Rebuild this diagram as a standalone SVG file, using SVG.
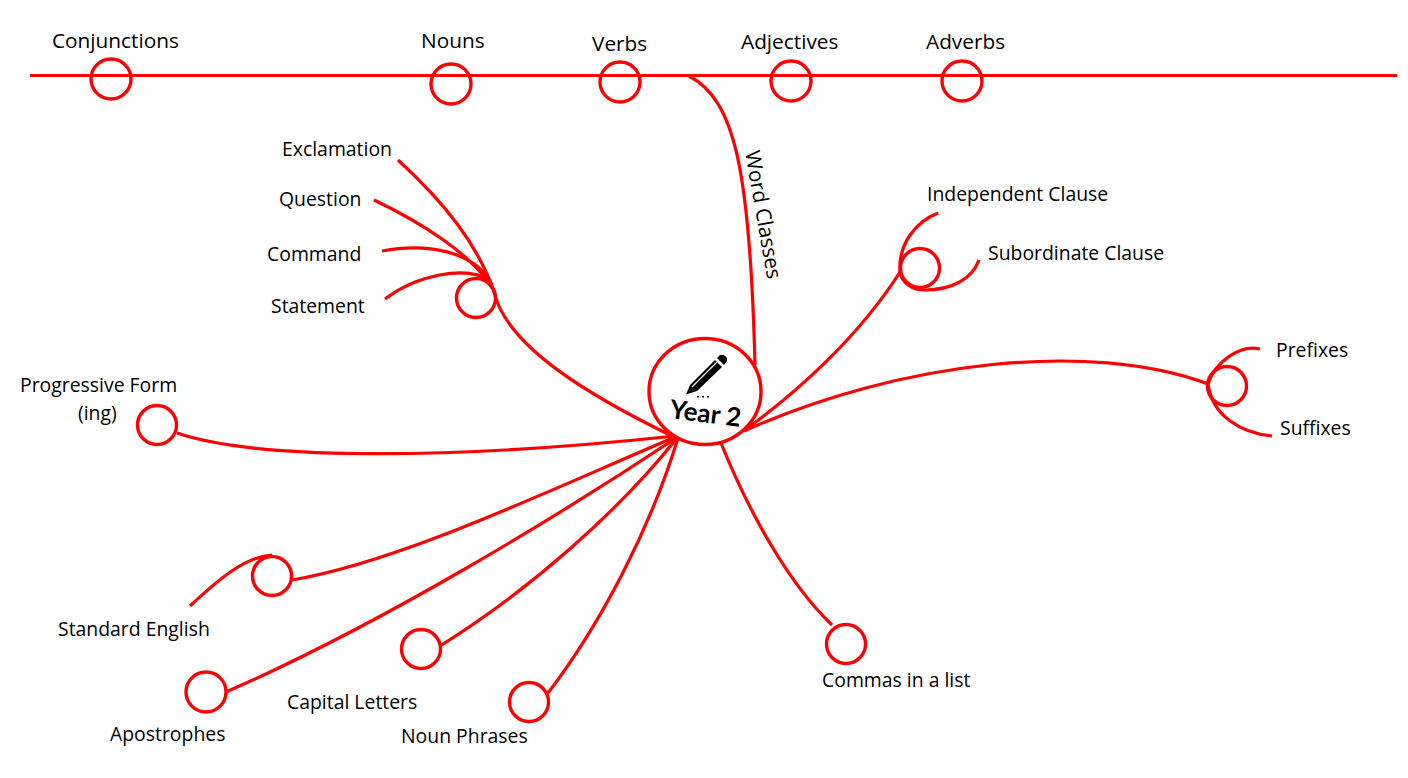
<svg xmlns="http://www.w3.org/2000/svg" width="1408" height="778" viewBox="0 0 1408 778">
<style>
.c{fill:none;stroke:#fe0000;stroke-width:3.2;stroke-linecap:butt}
.n{fill:#fff;fill-opacity:0;stroke:#fe0000;stroke-width:3.4}
text{font-family:"Open Sans","Noto Sans","Liberation Sans",sans-serif;font-size:19.4px;fill:#000}
.t{font-size:20.8px}
</style>
<rect width="1408" height="778" fill="#fff"/>
<g id="connectors">
<path class="c" d="M30 75.500H1397"/>
<path class="c" d="M689 76C735 100 750 170 755 365"/>
<path class="c" d="M398 160C445 203 478 245 494 292C507 347 590 396 672 436"/>
<path class="c" d="M374 200C420 222 472 254 492 288"/>
<path class="c" d="M382 251C425 243 475 250 492 285"/>
<path class="c" d="M385 299C415 276 465 264 491 281"/>
<path class="c" d="M177 433C250 458 430 462 675 436"/>
<path class="c" d="M292 580C400 562 550 490 675 437"/>
<path class="c" d="M190 606C220 578 245 557 272 555"/>
<path class="c" d="M226 692C380 625 560 515 676 438"/>
<path class="c" d="M440 646C530 590 620 510 677 438"/>
<path class="c" d="M548 693C600 625 650 530 678 438"/>
<path class="c" d="M721 443C750 515 790 585 832 625"/>
<path class="c" d="M745 430C800 390 860 335 900 272"/>
<path class="c" d="M938 213C915 222 898 245 900 272C902 283 912 290 925 290C950 290 972 280 979 260"/>
<path class="c" d="M744 431C900 361 1090 340 1208 384"/>
<path class="c" d="M1260 349C1240 344 1215 362 1208 384C1212 415 1240 433 1272 436"/>
</g>
<g id="node-conjunctions"><circle class="n" cx="111" cy="79" r="20"/><text class="t" x="52" y="47.500">Conjunctions</text></g>
<g id="node-nouns"><circle class="n" cx="451" cy="84" r="20"/><text class="t" x="421" y="47.500">Nouns</text></g>
<g id="node-verbs"><circle class="n" cx="620" cy="82" r="20"/><text class="t" x="592" y="50.500">Verbs</text></g>
<g id="node-adjectives"><circle class="n" cx="791" cy="81" r="20"/><text class="t" x="741" y="48.500">Adjectives</text></g>
<g id="node-adverbs"><circle class="n" cx="962" cy="81" r="20"/><text class="t" x="926" y="48.500">Adverbs</text></g>
<g id="label-word-classes"><text class="t" transform="translate(745 152) rotate(80)">Word Classes</text></g>
<g id="node-exclamation"><text x="282" y="155.500">Exclamation</text></g>
<g id="node-question"><text x="279" y="205.500">Question</text></g>
<g id="node-command"><text x="267" y="260.500">Command</text></g>
<g id="node-statement"><circle class="n" cx="476" cy="298" r="19.500"/><text x="271" y="312.500">Statement</text></g>
<g id="node-independent"><text x="927" y="200.500">Independent Clause</text></g>
<g id="node-subordinate"><circle class="n" cx="920" cy="268" r="19.500"/><text x="988" y="259.500">Subordinate Clause</text></g>
<g id="node-prefixes"><text x="1276" y="356.500">Prefixes</text></g>
<g id="node-suffixes"><circle class="n" cx="1227" cy="386" r="19.500"/><text x="1280" y="434.500">Suffixes</text></g>
<g id="node-progressive"><circle class="n" cx="157" cy="425" r="19.500"/><text x="20" y="391.500">Progressive Form</text><text x="78" y="419.500">(ing)</text></g>
<g id="node-standard"><circle class="n" cx="272" cy="576" r="19.500"/><text x="58" y="635.500">Standard English</text></g>
<g id="node-apostrophes"><circle class="n" cx="206" cy="692" r="20"/><text x="110" y="740.500">Apostrophes</text></g>
<g id="node-capitals"><circle class="n" cx="421" cy="649" r="19.500"/><text x="287" y="708.500">Capital Letters</text></g>
<g id="node-noun-phrases"><circle class="n" cx="529" cy="702" r="19.500"/><text x="401" y="742.500">Noun Phrases</text></g>
<g id="node-commas"><circle class="n" cx="846" cy="644" r="19.500"/><text x="822" y="686.500">Commas in a list</text></g>
<g id="node-year2">
<ellipse class="n" cx="705" cy="391.500" rx="56" ry="53"/>
<g fill="#000">
<polygon points="686,394.500 690,385 715,360 722,367 697,391"/>
<polygon points="717,358 720,355 724,355 727,358 727,361 724,365"/>
<path d="M692 387L717 362" stroke="#fff" stroke-width="1.200"/>
<rect x="697" y="396" width="2" height="1.500"/><rect x="702" y="396" width="2" height="1.500"/><rect x="707" y="396" width="2" height="1.500"/>
</g>
<text transform="translate(669 418) rotate(7)" style="font-family:Lato,'Open Sans',sans-serif;font-size:26px;font-weight:700">Year 2</text>
</g>
</svg>
